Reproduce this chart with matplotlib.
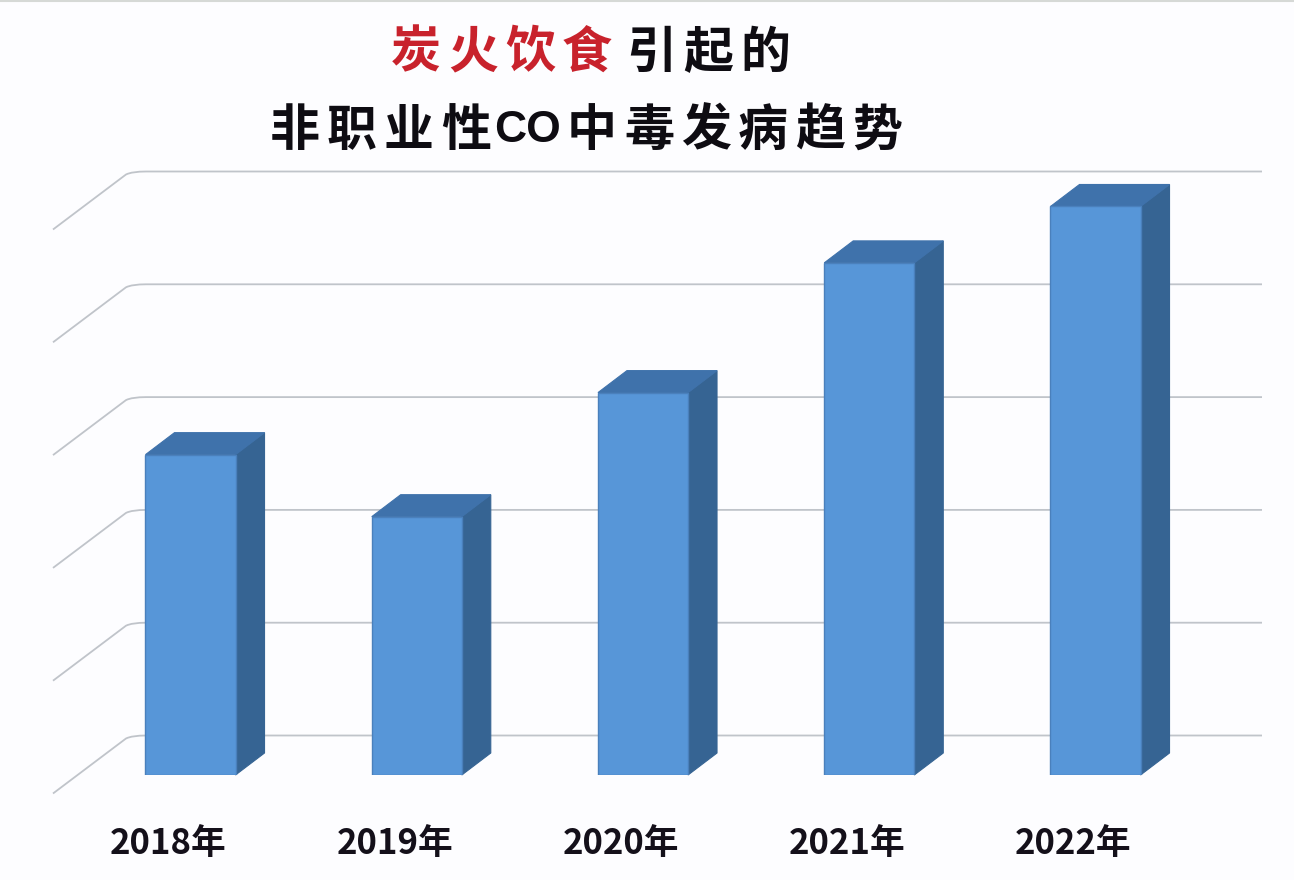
import matplotlib

matplotlib.use("Agg")
import matplotlib.pyplot as plt
from matplotlib.lines import Line2D
from matplotlib.patches import PathPatch, Polygon
from matplotlib.path import Path
from matplotlib.transforms import Affine2D, IdentityTransform

years = ["2018年", "2019年", "2020年", "2021年", "2022年"]
cases = [2.84, 2.29, 3.39, 4.54, 5.04]
grid_levels = [0, 1, 2, 3, 4, 5]
title_red = "炭火饮食"
title_black = "引起的"
title_left = "非职业性"
title_right = "中毒发病趋势"

W, H = 1294, 880
BG = "#FDFDFF"
FRONT = "#5796D8"
TOP = "#3F72AB"
SIDE = "#366493"
EDGE = "#4A80BC"
GRID = "#C0C4CA"
BAR_W = 0.398
CJK = ["Noto Sans CJK SC", "DejaVu Sans"]

plt.rcParams["font.family"] = CJK

fig = plt.figure(figsize=(W / 100, H / 100), dpi=100, facecolor=BG)
# axes bottom sits on the front edge of the bars
ax = fig.add_axes([0, 105 / H, 1, 775 / H])
ax.set_facecolor("none")
ax.set_xlim(-190.5 / 226.25, (W - 190.5) / 226.25)
ax.set_ylim(0, 775 / 112.8)
for s in ax.spines.values():
    s.set_visible(False)

x = list(range(len(years)))
ax.bar(x, cases, width=BAR_W, color=FRONT, edgecolor=EDGE, linewidth=1, zorder=3)

ax.set_yticks([])
ax.set_xticks(x)
ax.set_xticklabels(years, fontsize=25, fontweight="bold", color="#14101A")
ax.tick_params(axis="x", length=0, pad=37)
# year labels sit left of the bars in the original
for lab in ax.get_xticklabels():
    lab.set_transform(lab.get_transform() + Affine2D().translate(-22, 0))

to_px = ax.transData.transform

# walls: slant line up the left side then along the back
for v in grid_levels:
    y_back = to_px((0, v))[1] + 39.5
    verts = [
        (53, y_back - 58),
        (126, y_back - 3),
        (132, y_back),
        (146, y_back),
        (1262, y_back),
    ]
    codes = [Path.MOVETO, Path.LINETO, Path.CURVE3, Path.CURVE3, Path.LINETO]
    ax.add_patch(
        PathPatch(
            Path(verts, codes),
            fill=False,
            edgecolor=GRID,
            linewidth=1.3,
            transform=IdentityTransform(),
            clip_on=False,
            zorder=1,
        )
    )

# fake 3d faces for the bars
dx, dy = 29, 22
half = BAR_W / 2
for xi, val in zip(x, cases):
    x0, y0 = to_px((xi - half, 0))
    x1, y1 = to_px((xi + half, val))
    side = [(x1, y0), (x1 + dx, y0 + dy), (x1 + dx, y1 + dy), (x1, y1)]
    top = [(x0, y1), (x0 + dx, y1 + dy), (x1 + dx, y1 + dy), (x1, y1)]
    for pts, col in [(side, SIDE), (top, TOP)]:
        ax.add_patch(
            Polygon(
                pts,
                closed=True,
                facecolor=col,
                edgecolor=col,
                linewidth=0.8,
                transform=IdentityTransform(),
                clip_on=False,
                zorder=2,
            )
        )


def put_chars(chars, x_start, y_img, color):
    # title has wide letter spacing, so one glyph at a time
    for i, ch in enumerate(chars):
        fig.text(
            (x_start + 57 * i) / W,
            1 - y_img / H,
            ch,
            fontsize=36,
            fontweight="bold",
            color=color,
            ha="center",
            va="center",
        )


put_chars(title_red, 416, 53, "#C8222C")
put_chars(title_black, 651, 53, "#0E0C12")
put_chars(title_left, 295, 131, "#0E0C12")
fig.text(
    528 / W,
    1 - 130 / H,
    "CO",
    fontsize=32,
    fontweight="bold",
    family=["Liberation Sans", "DejaVu Sans"],
    color="#0E0C12",
    ha="center",
    va="center",
)
put_chars(title_right, 592, 131, "#0E0C12")

# thin grey edge along the top of the screenshot
fig.add_artist(Line2D([0, 1], [0.9985, 0.9985], color="#D6D9D6", linewidth=1.5))

fig.savefig("out.png", dpi=100, facecolor=BG)
